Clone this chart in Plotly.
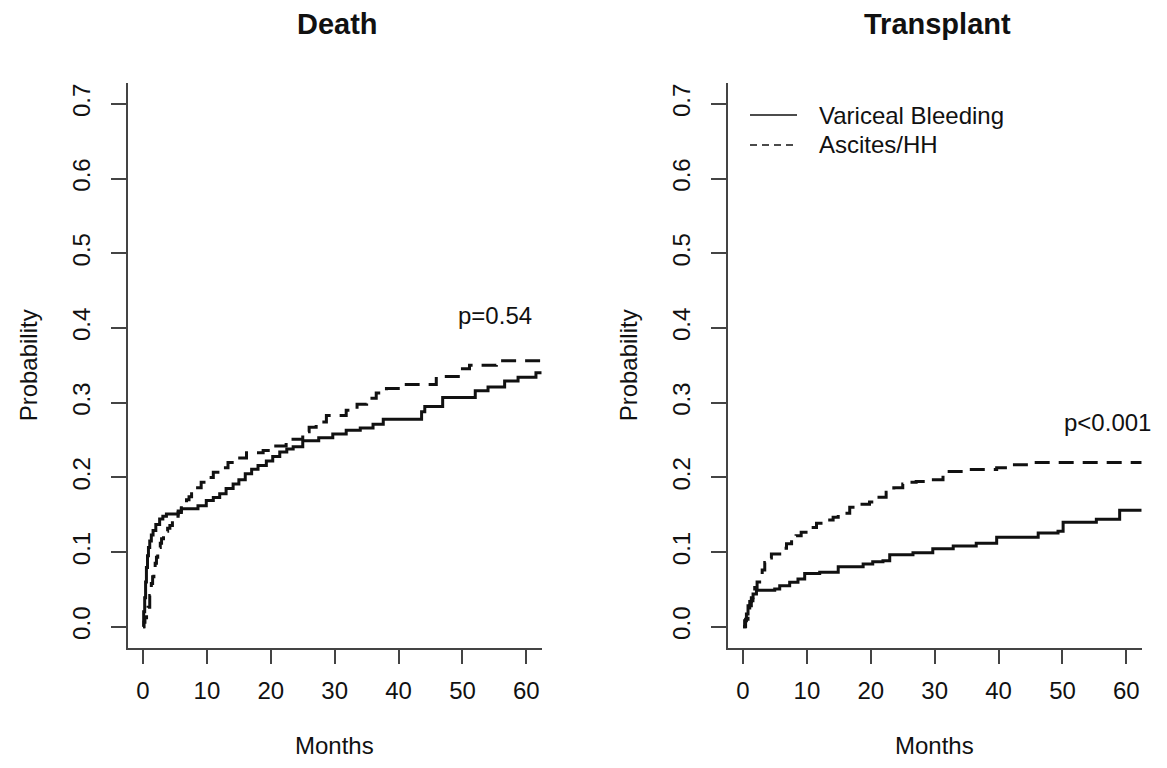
import plotly.graph_objects as go

# ---------------- data ----------------
panel_titles = ["Death", "Transplant"]
series_names = ["Variceal Bleeding", "Ascites/HH"]
p_labels = ["p=0.54", "p<0.001"]
p_label_x = [55.1, 57.1]
p_label_y = [0.417, 0.274]
x_ticks = [0, 10, 20, 30, 40, 50, 60]
y_ticks = [0.0, 0.1, 0.2, 0.3, 0.4, 0.5, 0.6, 0.7]

death_vb_t = [0, 0.1, 0.26, 0.4, 0.53, 0.7, 0.85, 1.05, 1.3, 1.57, 2.0, 2.6, 3.1, 3.66, 5.5, 6.0,
              8.6, 9.9, 11.0, 12.0, 13.0, 14.1, 15.0, 16.0, 17.0, 18.0, 19.3, 20.3, 21.4, 22.5,
              23.5, 25.0, 27.5, 29.7, 31.8, 34.0, 36.0, 37.6, 43.6, 44.1, 46.9, 52.0, 54.0, 56.6,
              58.7, 61.5, 62.4]
death_vb_p = [0, 0.02, 0.039, 0.06, 0.0795, 0.095, 0.106, 0.115, 0.123, 0.129, 0.137, 0.1444, 0.148,
              0.151, 0.153, 0.158, 0.162, 0.169, 0.173, 0.178, 0.185, 0.191, 0.197, 0.205, 0.211,
              0.216, 0.222, 0.228, 0.234, 0.238, 0.241, 0.249, 0.253, 0.258, 0.263, 0.266, 0.271,
              0.278, 0.288, 0.295, 0.307, 0.316, 0.321, 0.329, 0.334, 0.340, 0.340]

death_as_t = [0, 0.15, 0.3, 0.55, 0.78, 1.05, 1.3, 1.5, 1.7, 1.9, 2.1, 2.3, 2.5, 2.7, 2.9, 3.2,
              3.5, 3.85, 4.2, 4.6, 5.0, 5.5, 6.0, 6.4, 6.8, 7.2, 7.6, 8.3, 9.1, 9.9, 11.0, 12.0,
              13.3, 14.6, 16.2, 18.8, 20.3, 22.4, 25.0, 26.0, 27.1, 28.7, 31.8, 33.5, 35.0, 36.5,
              38.1, 41.2, 45.9, 49.6, 51.1, 55.3, 62.4]
death_as_p = [0, 0.006, 0.012, 0.019, 0.026, 0.042, 0.058, 0.067, 0.076, 0.085, 0.093, 0.1, 0.106,
              0.112, 0.118, 0.123, 0.128, 0.132, 0.1355, 0.142, 0.148, 0.155, 0.162, 0.166, 0.17,
              0.174, 0.178, 0.186, 0.1935, 0.2, 0.207, 0.213, 0.22, 0.226, 0.233, 0.236, 0.242,
              0.251, 0.261, 0.267, 0.274, 0.283, 0.29, 0.298, 0.306, 0.313, 0.319, 0.3245, 0.335,
              0.3455, 0.350, 0.356, 0.356]

tx_vb_t = [0, 0.25, 0.53, 0.78, 1.05, 1.3, 1.57, 2.1, 4.96, 5.74, 7.3, 8.6, 9.65, 12.0, 14.9,
           18.8, 20.3, 21.9, 22.96, 26.6, 29.7, 32.9, 36.5, 39.7, 46.2, 49.3, 50.1, 55.3, 58.95,
           62.4]
tx_vb_p = [0, 0.008, 0.017, 0.028, 0.034, 0.039, 0.044, 0.049, 0.0505, 0.055, 0.0595, 0.064,
           0.0715, 0.073, 0.0805, 0.084, 0.087, 0.0885, 0.0966, 0.099, 0.1045, 0.108, 0.112,
           0.120, 0.1257, 0.128, 0.140, 0.144, 0.156, 0.156]

tx_as_t = [0, 0.4, 0.78, 1.05, 1.3, 1.55, 1.83, 2.2, 2.6, 3.0, 3.4, 3.9, 4.44, 5.74, 6.3, 6.8,
           7.6, 8.3, 9.1, 10.3, 11.5, 12.8, 14.1, 14.9, 16.7, 18.3, 19.8, 20.9, 22.4, 23.6, 25.0,
           26.1, 27.1, 29.5, 31.3, 34.4, 39.7, 41.7, 44.35, 62.4]
tx_as_p = [0, 0.01, 0.0215, 0.028, 0.035, 0.044, 0.0527, 0.06, 0.066, 0.076, 0.086, 0.092, 0.0975,
           0.0997, 0.105, 0.111, 0.1176, 0.122, 0.1265, 0.133, 0.1386, 0.143, 0.1466, 0.152, 0.16,
           0.164, 0.167, 0.1734, 0.180, 0.186, 0.191, 0.1935, 0.1945, 0.197, 0.208, 0.2105,
           0.213, 0.217, 0.220, 0.220]

# ---------------- figure ----------------
OFF = 8                      # page body margin of the browser
W, H = 1167 - OFF, 768 - OFF
FONT = "Liberation Sans, Arial, Helvetica, sans-serif"
INK = "#111111"
AXIS = "#444444"


def fx(px):
    return (px - OFF) / W


def fy(py):
    return (H - (py - OFF)) / H


fig = go.Figure()

dash_styles = ["solid", "15px,9px"]
curve_sets = [
    [(death_vb_t, death_vb_p), (death_as_t, death_as_p)],
    [(tx_vb_t, tx_vb_p), (tx_as_t, tx_as_p)],
]

for i, curves in enumerate(curve_sets):
    xa = "x" if i == 0 else "x2"
    ya = "y" if i == 0 else "y2"
    for j, (t, p) in enumerate(curves):
        fig.add_trace(go.Scatter(
            x=t, y=p, mode="lines",
            line=dict(color=INK, width=3, dash=dash_styles[j], shape="hv"),
            xaxis=xa, yaxis=ya, showlegend=False, name=series_names[j], hoverinfo="skip"))

xdom = [[fx(127.7), fx(541.7)], [fx(727.7), fx(1141.7)]]
ydom = [fy(647.7), fy(83)]

common_x = dict(range=[-2.4, 62.4], tickvals=x_ticks, ticktext=[str(v) for v in x_ticks],
                showline=True, linecolor=AXIS, linewidth=1.5, ticks="outside", ticklen=15,
                tickwidth=1.5, tickcolor=AXIS, showgrid=False, zeroline=False, mirror=False,
                tickfont=dict(family=FONT, size=24, color=INK), ticklabelstandoff=6)
common_y = dict(range=[-0.028, 0.728], tickvals=y_ticks, ticktext=[f"{v:.1f}" for v in y_ticks],
                showline=True, linecolor=AXIS, linewidth=1.5, ticks="outside", ticklen=15,
                tickwidth=1.5, tickcolor=AXIS, showgrid=False, zeroline=False, mirror=False,
                tickangle=-90, tickfont=dict(family=FONT, size=24, color=INK),
                ticklabelstandoff=11)

fig.update_layout(
    xaxis=dict(domain=xdom[0], anchor="y", **common_x),
    yaxis=dict(domain=ydom, anchor="x", **common_y),
    xaxis2=dict(domain=xdom[1], anchor="y2", **common_x),
    yaxis2=dict(domain=ydom, anchor="x2", **common_y),
)

annotations = []
for i in range(2):
    cx = (xdom[i][0] + xdom[i][1]) / 2
    annotations.append(dict(text="<b>" + panel_titles[i] + "</b>", x=cx + 3 / W, y=fy(24),
                            xref="paper", yref="paper", showarrow=False, xanchor="center",
                            yanchor="middle", font=dict(family=FONT, size=29, color=INK)))
    annotations.append(dict(text="Months", x=cx, y=fy(745), xref="paper", yref="paper",
                            showarrow=False, xanchor="center", yanchor="middle",
                            font=dict(family=FONT, size=24, color=INK)))
    annotations.append(dict(text="Probability", x=fx(28 + 600 * i), y=(ydom[0] + ydom[1]) / 2,
                            xref="paper", yref="paper", showarrow=False, textangle=-90,
                            xanchor="center", yanchor="middle",
                            font=dict(family=FONT, size=24, color=INK)))
    annotations.append(dict(text=p_labels[i], x=p_label_x[i], y=p_label_y[i],
                            xref="x" if i == 0 else "x2", yref="y" if i == 0 else "y2",
                            showarrow=False, xanchor="center", yanchor="middle",
                            font=dict(family=FONT, size=24, color=INK)))

# legend (R-style, no box): thin key lines + labels, top-left of the Transplant panel
legend_rows_y = [115, 145]
legend_dash = ["solid", "7px,5px"]
shapes = []
for j, name in enumerate(series_names):
    shapes.append(dict(type="line", xref="paper", yref="paper",
                       x0=fx(750), x1=fx(797), y0=fy(legend_rows_y[j]), y1=fy(legend_rows_y[j]),
                       line=dict(color=INK, width=1.5, dash=legend_dash[j])))
    annotations.append(dict(text=name, x=fx(817), y=fy(legend_rows_y[j]), xref="paper",
                            yref="paper", showarrow=False, xanchor="left", yanchor="middle",
                            font=dict(family=FONT, size=24, color=INK)))

fig.update_layout(
    width=W, height=H, margin=dict(l=0, r=0, t=0, b=0, autoexpand=False),
    paper_bgcolor="white", plot_bgcolor="white",
    annotations=annotations, shapes=shapes, showlegend=False,
    font=dict(family=FONT, color=INK),
)

fig.write_html("out.html")
